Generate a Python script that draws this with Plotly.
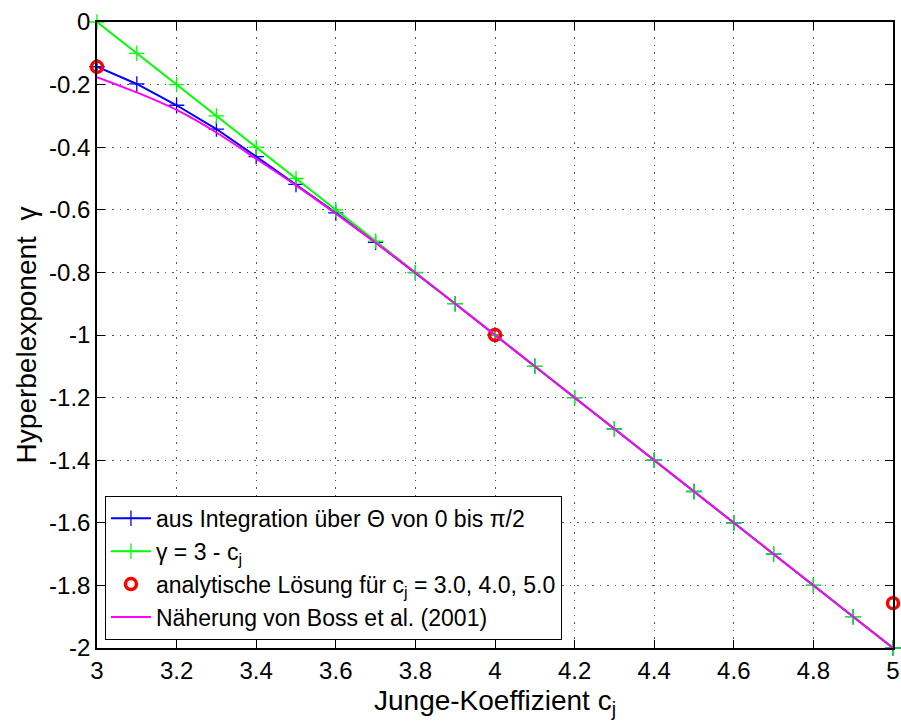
import plotly.graph_objects as go

# Junge coefficient grid
c_j = [3.0, 3.1, 3.2, 3.3, 3.4, 3.5, 3.6, 3.7, 3.8, 3.9, 4.0,
       4.1, 4.2, 4.3, 4.4, 4.5, 4.6, 4.7, 4.8, 4.9, 5.0]

# hyperbolic exponent from numerical integration over Theta
gamma_integration = [-0.143, -0.198, -0.266, -0.342, -0.430, -0.519, -0.610, -0.704,
                     -0.801, -0.900, -1.000, -1.100, -1.200, -1.300, -1.400, -1.500,
                     -1.600, -1.700, -1.800, -1.900, -2.000]

# simple relation gamma = 3 - c_j
gamma_linear = [0.0, -0.1, -0.2, -0.3, -0.4, -0.5, -0.6, -0.7, -0.8, -0.9, -1.0,
                -1.1, -1.2, -1.3, -1.4, -1.5, -1.6, -1.7, -1.8, -1.9, -2.0]

# analytic solutions
c_analytic = [3.0, 4.0, 5.0]
gamma_analytic = [-0.143, -1.0, -1.857]

# approximation by Boss et al. (2001)
gamma_boss = [-0.176, -0.225, -0.281, -0.353, -0.437, -0.522, -0.612, -0.705,
              -0.801, -0.900, -1.000, -1.100, -1.200, -1.300, -1.400, -1.500,
              -1.600, -1.700, -1.800, -1.900, -2.000]

x_ticks = [3.0, 3.2, 3.4, 3.6, 3.8, 4.0, 4.2, 4.4, 4.6, 4.8, 5.0]
x_ticktext = ["3", "3.2", "3.4", "3.6", "3.8", "4", "4.2", "4.4", "4.6", "4.8", "5"]
y_ticks = [0, -0.2, -0.4, -0.6, -0.8, -1.0, -1.2, -1.4, -1.6, -1.8, -2.0]
y_ticktext = ["0", "-0.2", "-0.4", "-0.6", "-0.8", "-1", "-1.2", "-1.4", "-1.6", "-1.8", "-2"]

FONT = "Liberation Sans, Arial, sans-serif"

fig = go.Figure()

fig.add_trace(go.Scatter(
    x=c_j, y=gamma_integration, mode="lines+markers",
    name="aus Integration über Θ von 0 bis π/2",
    line=dict(color="#0000ff", width=2),
    marker=dict(symbol="cross-thin", size=11, line=dict(color="#0000ff", width=1.3)),
    cliponaxis=False,
))
fig.add_trace(go.Scatter(
    x=c_j, y=gamma_linear, mode="lines+markers",
    name="γ = 3 - c<sub>j</sub>",
    line=dict(color="#00ff00", width=2),
    marker=dict(symbol="cross-thin", size=11, line=dict(color="#00ff00", width=1.3)),
    cliponaxis=False,
))
fig.add_trace(go.Scatter(
    x=c_analytic, y=gamma_analytic, mode="markers",
    name="analytische Lösung für c<sub>j</sub> = 3.0, 4.0, 5.0",
    marker=dict(symbol="circle-open", size=11, color="#ff0000", line=dict(color="#ff0000", width=3.5)),
    cliponaxis=False,
))
fig.add_trace(go.Scatter(
    x=c_j, y=gamma_boss, mode="lines",
    name="Näherung von Boss et al. (2001)",
    line=dict(color="#ff00ff", width=2, shape="spline", smoothing=0.6),
    cliponaxis=False,
))

axis_common = dict(
    showline=True, linecolor="black", linewidth=1.5, mirror="ticks",
    ticks="inside", ticklen=8, tickwidth=1, tickcolor="black",
    showgrid=True, gridcolor="#555555", griddash="1.5px,6px", gridwidth=1,
    zeroline=False,
    tickfont=dict(family=FONT, size=24, color="black"),
)

fig.update_xaxes(
    range=[3, 5], tickvals=x_ticks, ticktext=x_ticktext,
    title=dict(text="Junge-Koeffizient c<sub>j</sub>",
               font=dict(family=FONT, size=28, color="black"),
               standoff=8),
    **axis_common,
)
fig.update_yaxes(
    range=[-2, 0], tickvals=y_ticks, ticktext=y_ticktext,
    title=dict(text="Hyperbelexponent  γ",
               font=dict(family=FONT, size=28, color="black"),
               standoff=4),
    **axis_common,
)

fig.update_layout(
    width=901, height=722,
    margin=dict(l=97, r=8, t=22, b=74, autoexpand=False),
    paper_bgcolor="white", plot_bgcolor="white",
    showlegend=True,
    legend=dict(
        x=0.01, y=0.013, xanchor="left", yanchor="bottom",
        bgcolor="white", bordercolor="black", borderwidth=1,
        font=dict(family=FONT, size=23, color="black"),
        tracegroupgap=0, itemwidth=40,
    ),
)

fig.write_html("out.html")
